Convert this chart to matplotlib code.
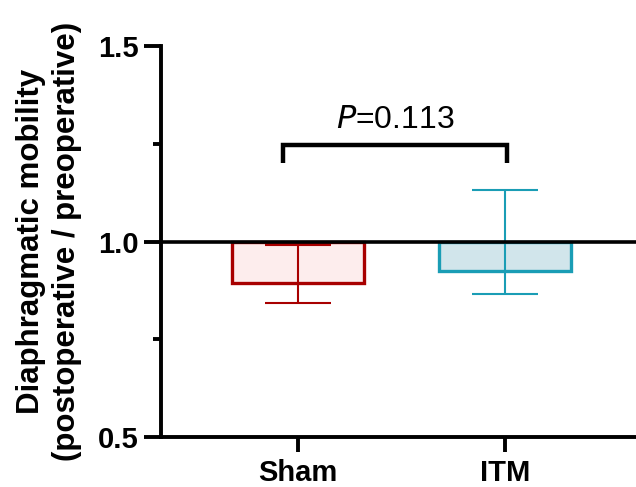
import matplotlib
matplotlib.use("Agg")
import matplotlib.pyplot as plt
from matplotlib.ticker import MultipleLocator

categories = ["Sham", "ITM"]
values = [0.893, 0.924]
err_low = [0.842, 0.867]
err_high = [0.990, 1.133]
p_label = "P"
p_value = "=0.113"
edge_colors = ["#A80000", "#1A9DB5"]
fill_colors = ["#FDEDED", "#D1E5EB"]

plt.rcParams['font.family'] = ['Liberation Sans', 'DejaVu Sans']

fig = plt.figure(figsize=(6.36, 4.87), dpi=100)
ax = fig.add_axes([0.253, 0.1027, 0.747, 0.8028])

x = list(range(len(categories)))
for i in x:
    ax.bar(i, values[i] - 1.0, bottom=1.0, width=0.64, color=fill_colors[i],
           edgecolor=edge_colors[i], linewidth=2.4, zorder=2)
    ax.errorbar(i, values[i], yerr=[[values[i] - err_low[i]], [err_high[i] - values[i]]],
                fmt='none', ecolor=edge_colors[i], elinewidth=1.5, capsize=24,
                capthick=1.5, zorder=3)

ax.axhline(1.0, color='black', linewidth=2.6, zorder=4)

# significance bracket
bx0, bx1, btop, bleg = -0.07, 1.01, 1.247, 1.20
ax.plot([bx0, bx0, bx1, bx1], [bleg, btop, btop, bleg], color='black',
        linewidth=3.2, solid_capstyle='butt', solid_joinstyle='miter', zorder=5)
ax.text((bx0 + bx1) / 2, 1.29, r"$\mathit{P}$" + p_value, ha='center', va='baseline',
        fontsize=23)

ax.set_xlim(-0.662, 1.633)
ax.set_ylim(0.5, 1.5)
ax.set_xticks(x)
ax.set_xticklabels(categories, fontsize=21, fontweight='bold')
ax.yaxis.set_minor_locator(MultipleLocator(0.25))
ax.set_yticks([0.5, 1.0, 1.5])
ax.set_yticklabels(["0.5", "1.0", "1.5"], fontsize=21, fontweight='bold')

for s in ['top', 'right']:
    ax.spines[s].set_visible(False)
for s in ['left', 'bottom']:
    ax.spines[s].set_linewidth(2.8)
ax.tick_params(axis='both', which='major', length=12, width=2.8, pad=4)
ax.tick_params(axis='y', which='minor', length=6, width=2.8)
ax.tick_params(axis='x', which='major', length=11, pad=5)

ax.set_ylabel("Diaphragmatic mobility\n(postoperative / preoperative)", fontsize=22.5,
              fontweight='bold', linespacing=1.28)
ax.yaxis.set_label_coords(-0.166, 0.5)

fig.savefig("out.png", dpi=100)
